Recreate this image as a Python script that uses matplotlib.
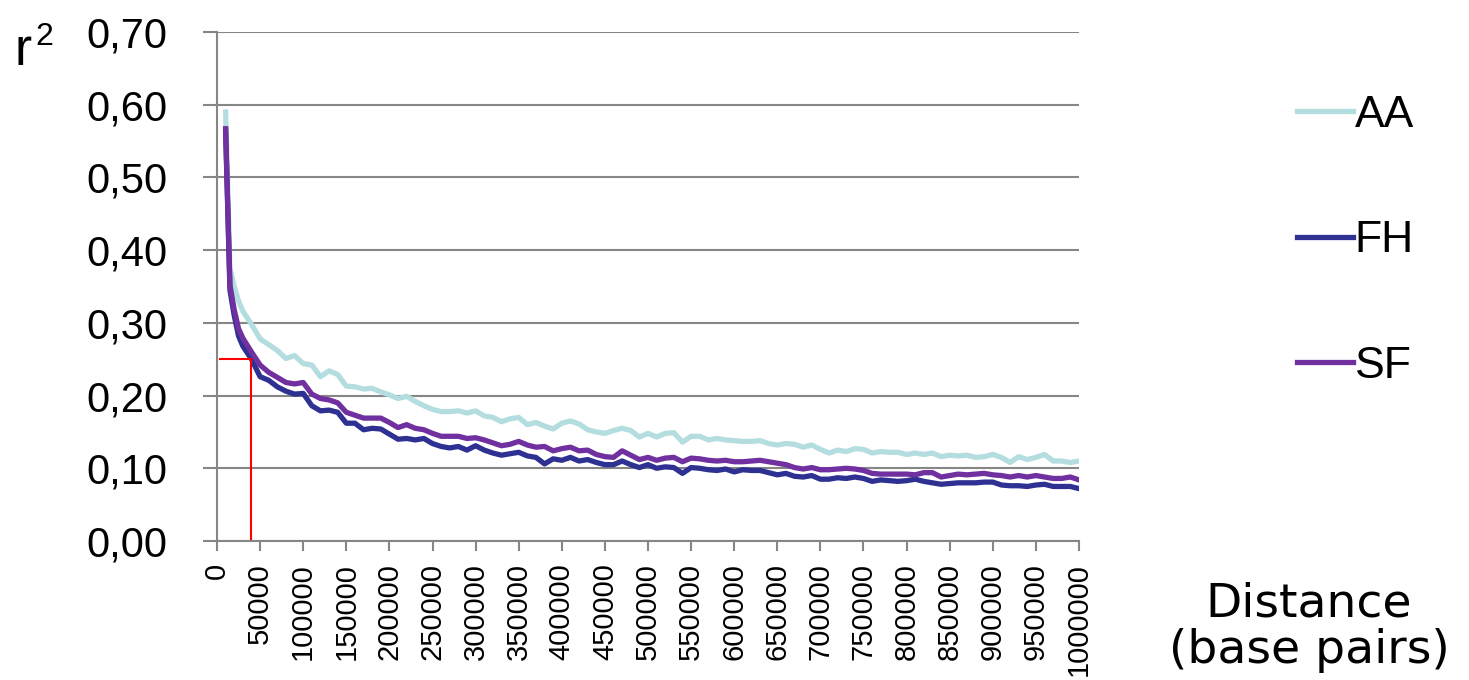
import matplotlib
matplotlib.use("Agg")
import matplotlib.pyplot as plt

# distance bins (base pairs)
distance = [10000, 15000, 20000, 25000] + list(range(30000, 1000001, 10000))

# mean r2 per distance bin
aa = [0.590, 0.375, 0.350, 0.330, 0.316, 0.298, 0.278, 0.270, 0.262, 0.251,
      0.255, 0.244, 0.242, 0.226, 0.234, 0.229, 0.213, 0.212, 0.209, 0.210,
      0.205, 0.201, 0.196, 0.199, 0.192, 0.186, 0.181, 0.178, 0.178, 0.179,
      0.176, 0.179, 0.172, 0.170, 0.164, 0.168, 0.170, 0.160, 0.163, 0.158,
      0.154, 0.162, 0.165, 0.161, 0.153, 0.150, 0.148, 0.152, 0.155, 0.152,
      0.143, 0.148, 0.143, 0.148, 0.149, 0.136, 0.144, 0.144, 0.139, 0.141,
      0.139, 0.138, 0.137, 0.137, 0.138, 0.134, 0.132, 0.134, 0.133, 0.129,
      0.132, 0.126, 0.121, 0.125, 0.123, 0.127, 0.126, 0.121, 0.123, 0.122,
      0.122, 0.119, 0.121, 0.119, 0.121, 0.116, 0.118, 0.117, 0.118, 0.115,
      0.116, 0.119, 0.115, 0.108, 0.116, 0.112, 0.115, 0.119, 0.110, 0.110,
      0.108, 0.110]
fh = [0.565, 0.345, 0.310, 0.282, 0.268, 0.250, 0.226, 0.221, 0.212, 0.206,
      0.202, 0.203, 0.186, 0.179, 0.180, 0.177, 0.162, 0.162, 0.153, 0.155,
      0.154, 0.147, 0.140, 0.141, 0.139, 0.141, 0.134, 0.130, 0.128, 0.130,
      0.125, 0.131, 0.125, 0.121, 0.118, 0.120, 0.122, 0.117, 0.115, 0.106,
      0.113, 0.111, 0.115, 0.110, 0.112, 0.108, 0.105, 0.105, 0.110, 0.105,
      0.101, 0.105, 0.100, 0.102, 0.101, 0.093, 0.101, 0.100, 0.098, 0.097,
      0.099, 0.095, 0.098, 0.097, 0.097, 0.094, 0.091, 0.093, 0.089, 0.088,
      0.090, 0.085, 0.085, 0.087, 0.086, 0.088, 0.086, 0.082, 0.084, 0.083,
      0.082, 0.083, 0.085, 0.082, 0.080, 0.078, 0.079, 0.080, 0.080, 0.080,
      0.081, 0.081, 0.077, 0.076, 0.076, 0.075, 0.077, 0.078, 0.075, 0.075,
      0.075, 0.072]
sf = [0.567, 0.352, 0.318, 0.292, 0.279, 0.260, 0.242, 0.232, 0.225, 0.218,
      0.216, 0.218, 0.202, 0.196, 0.194, 0.190, 0.177, 0.173, 0.169, 0.169,
      0.169, 0.163, 0.156, 0.160, 0.155, 0.153, 0.148, 0.144, 0.144, 0.144,
      0.141, 0.142, 0.139, 0.135, 0.131, 0.133, 0.137, 0.132, 0.129, 0.130,
      0.124, 0.127, 0.129, 0.124, 0.125, 0.119, 0.116, 0.115, 0.124, 0.118,
      0.112, 0.115, 0.111, 0.114, 0.115, 0.109, 0.114, 0.113, 0.111, 0.110,
      0.111, 0.109, 0.109, 0.110, 0.111, 0.109, 0.107, 0.105, 0.101, 0.099,
      0.101, 0.098, 0.098, 0.099, 0.100, 0.099, 0.097, 0.093, 0.092, 0.092,
      0.092, 0.092, 0.091, 0.094, 0.094, 0.088, 0.090, 0.092, 0.091, 0.092,
      0.093, 0.091, 0.090, 0.088, 0.090, 0.088, 0.090, 0.088, 0.086, 0.086,
      0.088, 0.084]

labels = ["AA", "FH", "SF"]
colors = ["#b4dde0", "#2e3192", "#7030a0"]

# r2 = 0.25 cut-off and the distance where it is reached
cutoff_r2 = 0.25
cutoff_dist = 39000
cutoff_start = 4000

xticks = list(range(0, 1000001, 50000))
yticks = [0.0, 0.1, 0.2, 0.3, 0.4, 0.5, 0.6, 0.7]

sans = ["Liberation Sans", "DejaVu Sans"]

fig = plt.figure(figsize=(14.69, 6.8), dpi=100)
ax = fig.add_axes([217 / 1469, 139 / 680, 862 / 1469, 509 / 680])

for vals, lab, col in zip([aa, fh, sf], labels, colors):
    ax.plot(distance, vals, color=col, lw=3.8, label=lab, solid_joinstyle="round")

ax.plot([cutoff_start, cutoff_dist], [cutoff_r2, cutoff_r2], color="red", lw=1.5)
ax.plot([cutoff_dist, cutoff_dist], [0, cutoff_r2], color="red", lw=1.5)

ax.set_xlim(0, 1000000)
ax.set_ylim(0, 0.70)
ax.set_yticks(yticks)
ax.set_yticklabels([f"{v:.2f}".replace(".", ",") for v in yticks], family=sans, fontsize=30)
ax.set_xticks(xticks)
ax.set_xticklabels([str(v) for v in xticks], rotation=90, family=sans, fontsize=21, va="top")

ax.grid(axis="y", color="#868686", lw=1.5)
ax.set_axisbelow(True)
for s in ["top", "right"]:
    ax.spines[s].set_visible(False)
for s in ["left", "bottom"]:
    ax.spines[s].set_color("#868686")
    ax.spines[s].set_linewidth(1.5)
ax.tick_params(axis="y", length=10, width=1.5, color="#868686", pad=26)
ax.tick_params(axis="x", length=7, width=1.5, color="#868686", pad=9)

fig.text(14 / 1469, 1 - 65 / 680, "r", family=sans, fontsize=37, ha="left", va="baseline")
fig.text(35 / 1469, 1 - 45 / 680, "2", family=sans, fontsize=23, ha="left", va="baseline")
fig.text(1309 / 1469, 1 - 627 / 680, "Distance\n(base pairs)", family="DejaVu Sans",
         fontsize=34, ha="center", va="center", linespacing=1.05)

ax.legend(loc="upper left", bbox_to_anchor=(1297 / 1469, 1 - 95 / 680), bbox_transform=fig.transFigure,
          frameon=False, prop={"family": sans, "size": 32}, handlelength=1.25,
          handletextpad=0.05, labelspacing=1.9, borderaxespad=0, borderpad=0)

fig.savefig("out.png", dpi=100)
